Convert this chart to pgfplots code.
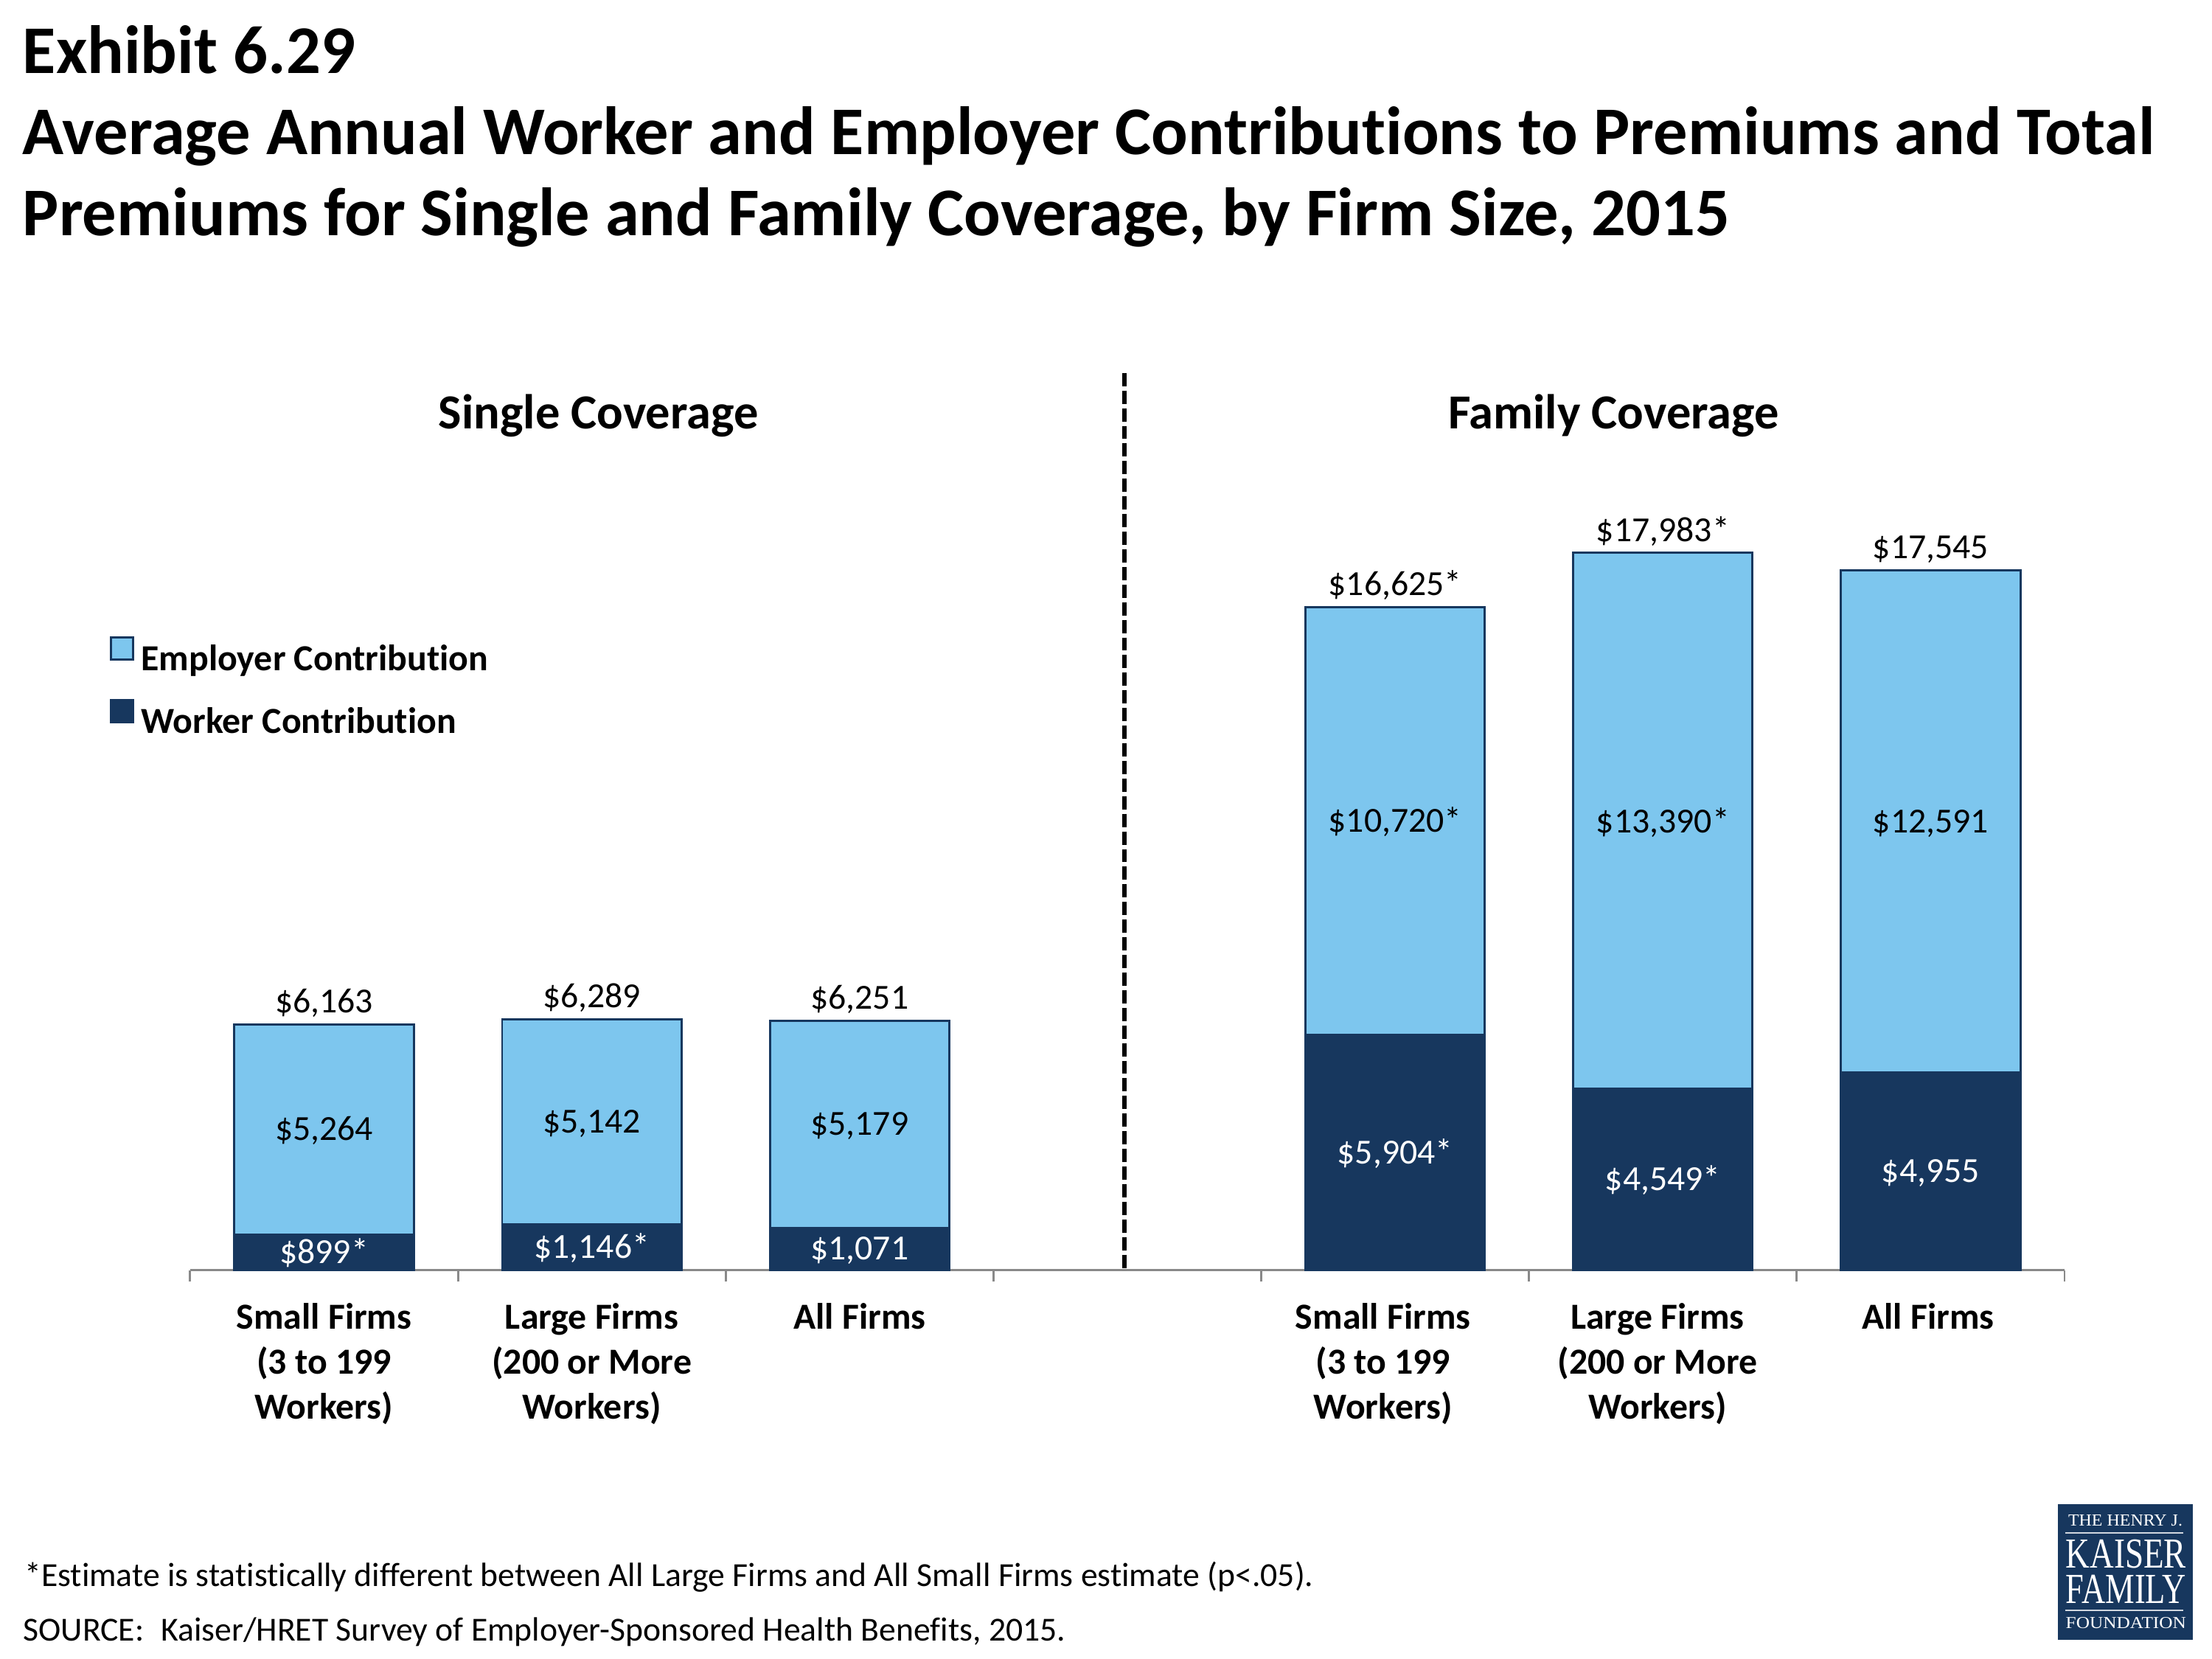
\documentclass[border=0pt]{standalone}
\usepackage{fontspec}
\setmainfont{Carlito}[Ligatures=NoCommon]
\newfontfamily\logofont{Liberation Serif}
\usepackage{graphicx}
\usepackage{pgfplots}
\usepackage{pgfplotstable}
\pgfplotsset{compat=1.18}

\definecolor{empblue}{HTML}{7DC6EE}
\definecolor{navy}{HTML}{17375E}
\definecolor{axisgray}{HTML}{898989}

% x = slot on the axis (slot 3 is the gap between the two panels)
\pgfplotstableread{
x worker employer total wlab elab tlab
0 899 5264 6163 899* 5,264 6,163
1 1146 5142 6289 1,146* 5,142 6,289
2 1071 5179 6251 1,071 5,179 6,251
4 5904 10720 16625 5,904* 10,720* 16,625*
5 4549 13390 17983 4,549* 13,390* 17,983*
6 4955 12591 17545 4,955 12,591 17,545
}\premiums

\pgfplotsset{
  sqlegend/.style={legend image code/.code={\draw[##1, line width=0.7bp] (0bp,-0.4bp) rectangle (7.2bp,6.8bp);}},
  lab/.style={nodes near coords={\$\pgfplotspointmeta}, point meta=explicit symbolic,
    every node near coord/.style={anchor=base, inner sep=0pt, font=\fontsize{11.5}{13}\selectfont, #1}},
}

\begin{document}
\begin{tikzpicture}
\useasboundingbox (0,0) rectangle (720bp,540bp);

% titles
\node[anchor=base west, inner sep=0pt, font=\bfseries\fontsize{22.3}{26}\selectfont] at (7.2bp,516bp) {Exhibit 6.29};
\node[anchor=base west, inner sep=0pt, font=\bfseries\fontsize{22.3}{26}\selectfont] at (7.2bp,489.6bp) {Average Annual Worker and Employer Contributions to Premiums and Total};
\node[anchor=base west, inner sep=0pt, font=\bfseries\fontsize{22.3}{26}\selectfont] at (7.2bp,463.2bp) {Premiums for Single and Family Coverage, by Firm Size, 2015};

\node[anchor=base, inner sep=0pt, font=\bfseries\fontsize{16}{19}\selectfont] at (194.8bp,400.4bp) {Single Coverage};
\node[anchor=base, inner sep=0pt, font=\bfseries\fontsize{16}{19}\selectfont] at (525.2bp,400.4bp) {Family Coverage};

\begin{axis}[
  at={(61.9bp,126.5bp)}, anchor=south west,
  scale only axis, width=610.1bp, height=259.7bp,
  xmin=-0.5, xmax=6.5, ymin=0, ymax=20000,
  axis y line=none, axis x line=bottom,
  x axis line style={-, draw=axisgray, line width=0.7bp},
  xtick={0,1,2,3.955,4.98,5.99},
  xticklabels={{Small Firms\\(3 to 199\\Workers)},{Large Firms\\(200 or More\\Workers)},{All Firms},
               {Small Firms\\(3 to 199\\Workers)},{Large Firms\\(200 or More\\Workers)},{All Firms}},
  minor xtick={-0.5,0.5,1.5,2.5,3.5,4.5,5.5,6.5},
  major tick length=0pt, minor tick length=3.7bp,
  tick align=outside,
  tick style={draw=axisgray, line width=0.7bp},
  xticklabel style={align=center, anchor=north, inner sep=0pt, yshift=-10.6bp,
    font=\bfseries\fontsize{12}{14.6}\selectfont},
  clip=false,
  legend style={draw=none, fill=none, at={(axis description cs:-0.0433,0.7956)}, anchor=north west,
    inner sep=0pt, row sep=9.2bp, column sep=2.4bp,
    nodes={inner sep=0pt, text height=8bp, text depth=0pt},
    font=\bfseries\fontsize{12}{14}\selectfont},
  legend cell align=left,
]
\addplot[ybar, bar width=0.67, bar shift=0pt, fill=empblue, draw=navy, line width=0.7bp, sqlegend,
  lab={yshift=3.8bp, text=black}]
  table[x=x, y=total, meta=tlab] {\premiums};
\addplot[ybar, bar width=0.67, bar shift=0pt, fill=navy, draw=navy, line width=0.7bp, sqlegend]
  table[x=x, y=worker] {\premiums};
\addplot[draw=none, forget plot, lab={yshift=-3.6bp, text=black}]
  table[x=x, y expr=\thisrow{worker}+0.5*\thisrow{employer}, meta=elab] {\premiums};
\addplot[draw=none, forget plot, lab={yshift=-3.6bp, text=white}]
  table[x=x, y expr=0.5*\thisrow{worker}, meta=wlab] {\premiums};
\legend{Employer Contribution, Worker Contribution}
\end{axis}

% panel divider
\draw[line width=1.44bp, dash pattern=on 4.3bp off 1.44bp] (366bp,418.6bp) -- (366bp,126.5bp);

% notes
\node[anchor=base west, inner sep=0pt, font=\fontsize{11}{13}\selectfont] at (7.8bp,23.6bp)
  {*Estimate is statistically different between All Large Firms and All Small Firms estimate (p<.05).};
\node[anchor=base west, inner sep=0pt, font=\fontsize{11}{13}\selectfont] at (7.4bp,5.9bp)
  {SOURCE:\enspace Kaiser/HRET Survey of Employer-Sponsored Health Benefits, 2015.};

% logo
\fill[navy] (669.8bp,6.2bp) rectangle (713.8bp,50.4bp);
\node[anchor=base west, inner sep=0pt, text=white] at (673bp,43.2bp) {\resizebox{37.2bp}{3.6bp}{\logofont THE HENRY J.}};
\draw[white!80!navy, line width=0.4bp] (672.2bp,41bp) -- (710.6bp,41bp);
\node[anchor=base west, inner sep=0pt, text=white] at (672.2bp,29.6bp) {\resizebox{39.2bp}{9.2bp}{\logofont KAISER}};
\node[anchor=base west, inner sep=0pt, text=white] at (672.2bp,18bp) {\resizebox{39.2bp}{9.2bp}{\logofont FAMILY}};
\draw[white!80!navy, line width=0.4bp] (672.2bp,15.8bp) -- (710.6bp,15.8bp);
\node[anchor=base west, inner sep=0pt, text=white] at (672.2bp,10bp) {\resizebox{39.2bp}{3.6bp}{\logofont FOUNDATION}};
\end{tikzpicture}
\end{document}
